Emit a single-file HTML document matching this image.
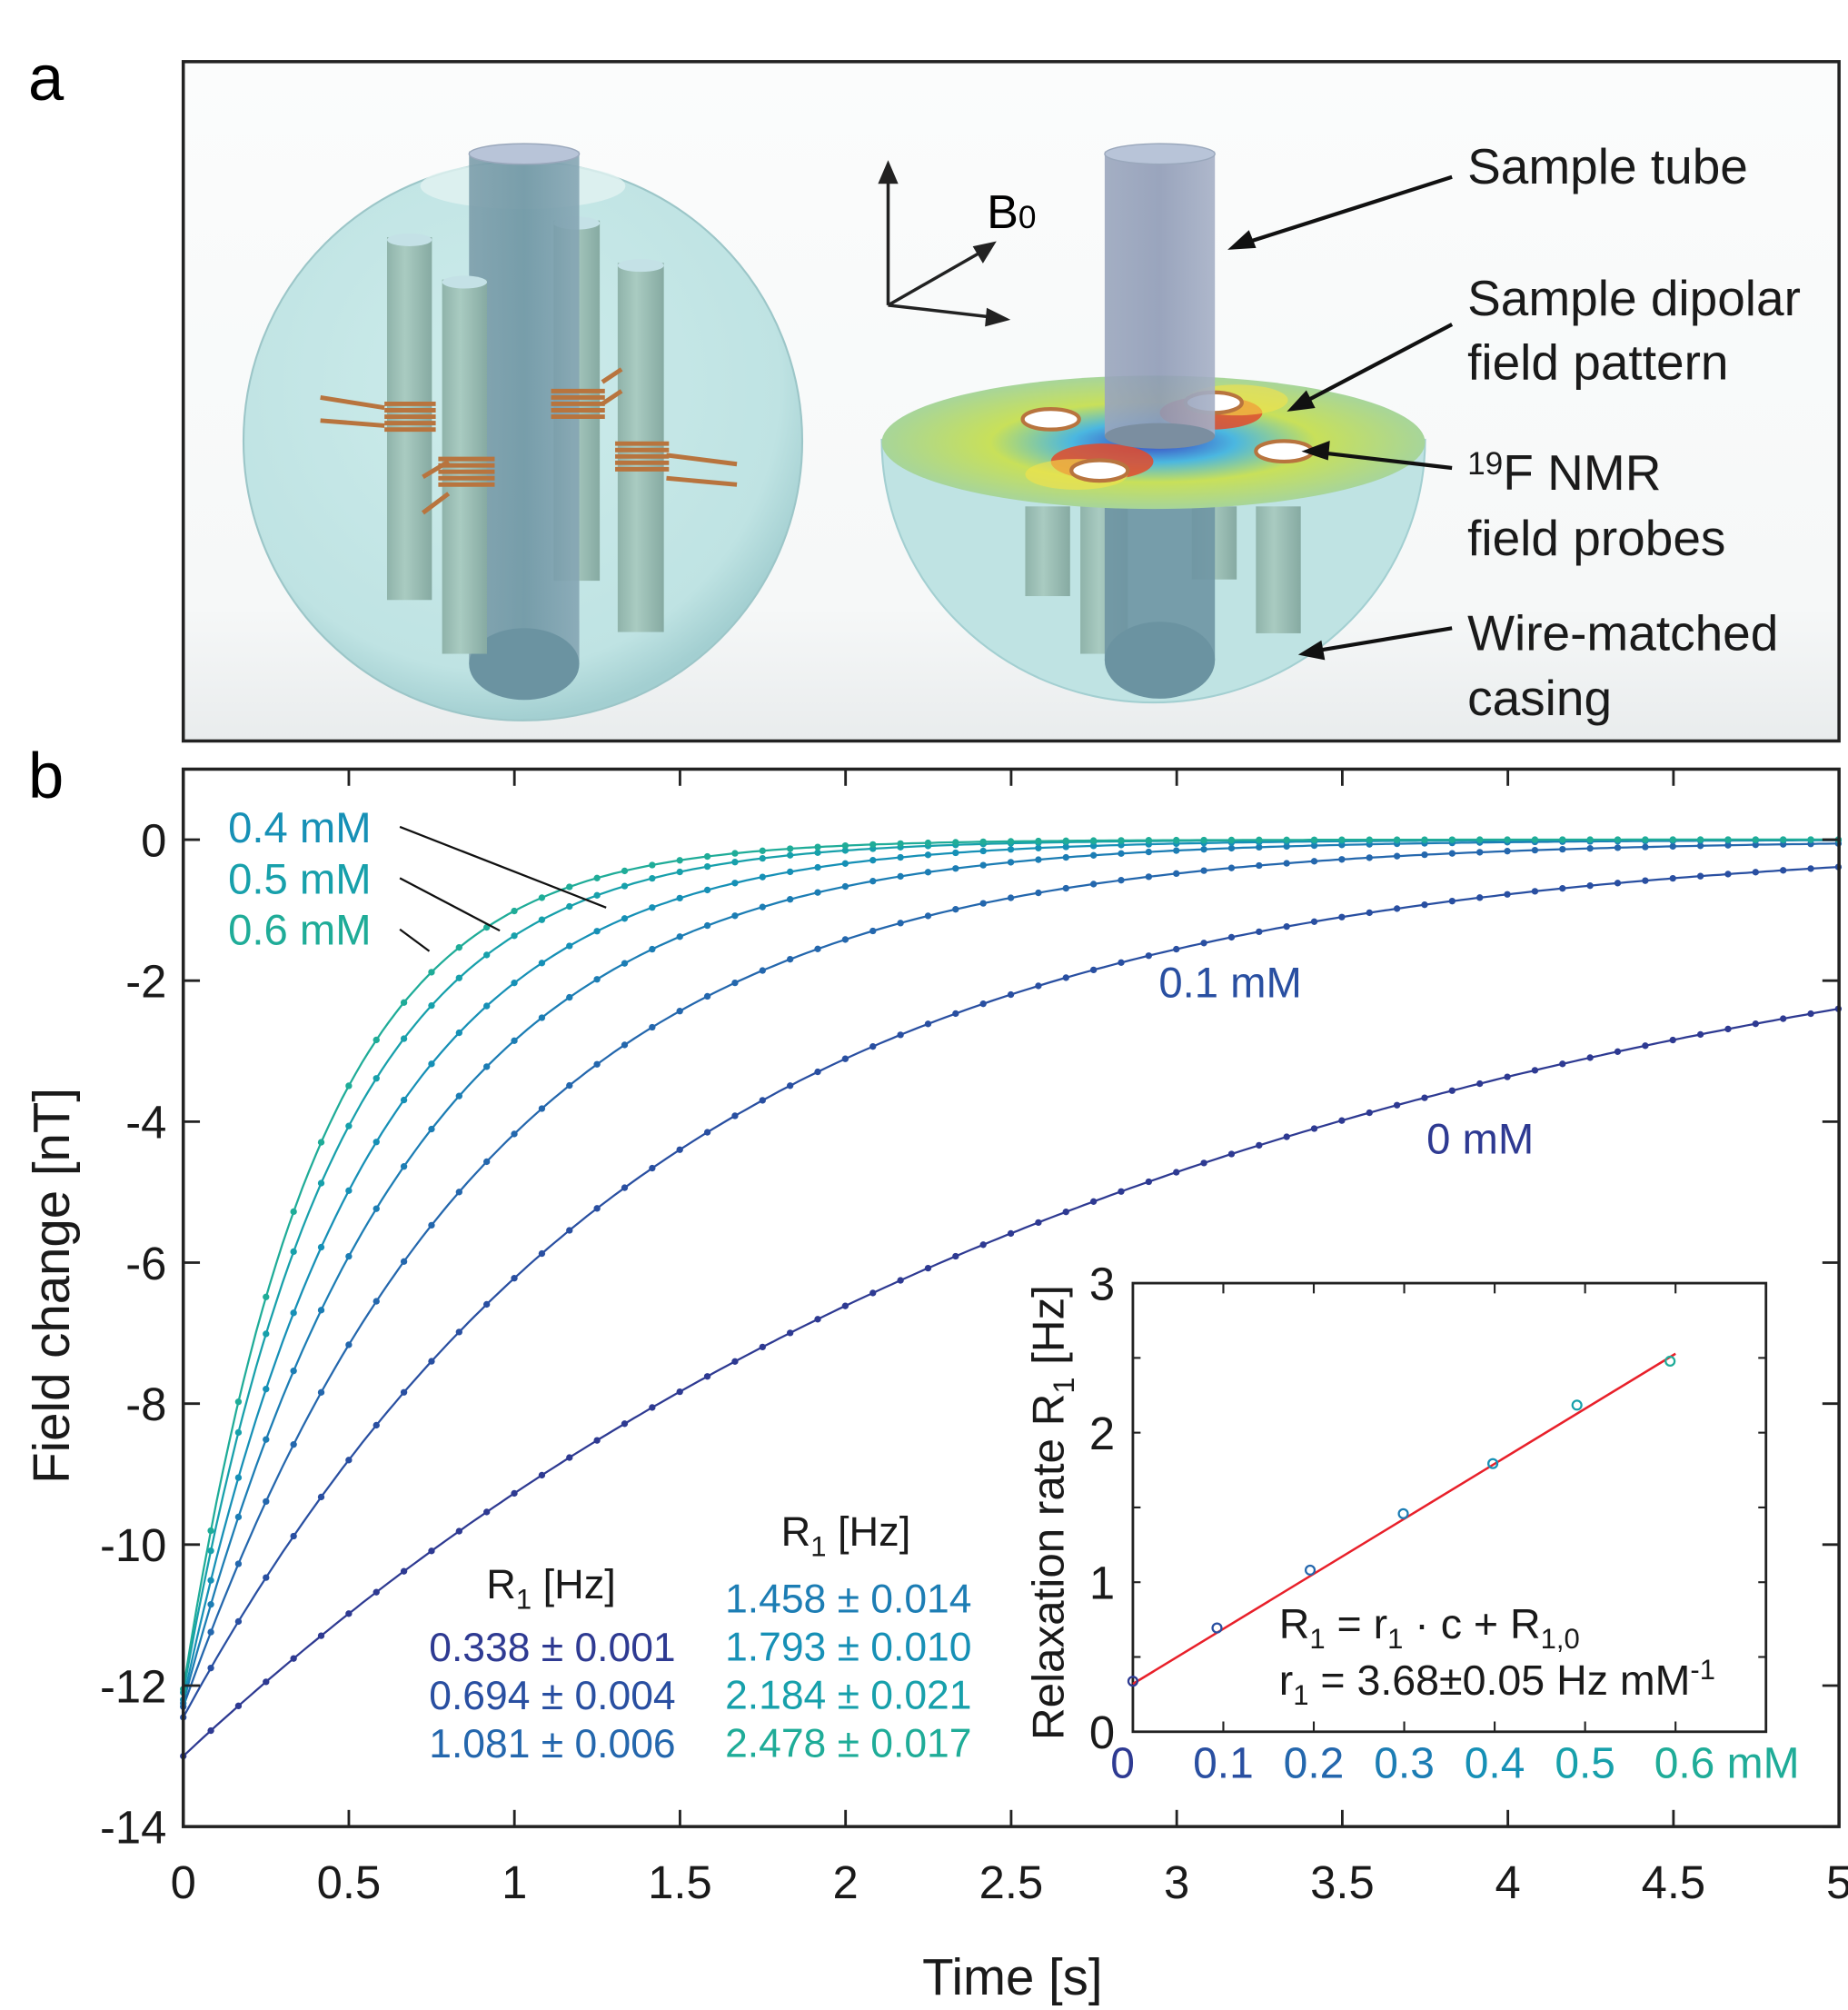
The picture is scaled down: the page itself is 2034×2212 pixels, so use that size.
<!DOCTYPE html>
<html><head><meta charset="utf-8"><style>
html,body{margin:0;padding:0;background:#fff}
svg{display:block}
text{font-family:"Liberation Sans",sans-serif}
</style></head><body>
<svg id="fig" width="2034" height="2212" viewBox="0 0 1442 1568" xmlns="http://www.w3.org/2000/svg">
<defs>
<linearGradient id="bg" x1="0" y1="0" x2="0" y2="1"><stop offset="0" stop-color="#fbfcfc"/><stop offset="0.8" stop-color="#f6f8f8"/><stop offset="1" stop-color="#e9eced"/></linearGradient>
<radialGradient id="sph" cx="0.45" cy="0.4" r="0.6"><stop offset="0" stop-color="#cdeceb"/><stop offset="0.85" stop-color="#bfe3e3"/><stop offset="1" stop-color="#a3cfd1"/></radialGradient>
<linearGradient id="rod" x1="0" x2="1"><stop offset="0" stop-color="#8fb3aa"/><stop offset="0.4" stop-color="#a9cbc1"/><stop offset="1" stop-color="#86aaa2"/></linearGradient>
<linearGradient id="tube" x1="0" x2="1"><stop offset="0" stop-color="#7d9eab"/><stop offset="0.5" stop-color="#6e95a3"/><stop offset="1" stop-color="#86a6b4"/></linearGradient>
<linearGradient id="tube2" x1="0" x2="1"><stop offset="0" stop-color="#9aa6bd"/><stop offset="0.5" stop-color="#8f9bb6"/><stop offset="1" stop-color="#a6b0c6"/></linearGradient>
<radialGradient id="disk" cx="0.5" cy="0.5" r="0.5"><stop offset="0" stop-color="#3a3fc0"/><stop offset="0.3" stop-color="#4bb7e0"/><stop offset="0.6" stop-color="#c8e05a"/><stop offset="1" stop-color="#a7d59a"/></radialGradient>
</defs>

<!-- panel a -->
<text x="22" y="78" font-size="50">a</text>
<rect x="143" y="48" width="1292" height="530" fill="url(#bg)" stroke="#222" stroke-width="2.5"/>
<g>
<ellipse cx="408" cy="344" rx="218" ry="218" fill="url(#sph)" stroke="#9cc6c8" stroke-width="1.5"/>
<ellipse cx="408" cy="145" rx="80" ry="18" fill="#e2f3f1" opacity="0.8"/>
<rect x="302" y="185" width="35" height="283" fill="url(#rod)"/><ellipse cx="319.5" cy="187" rx="17.5" ry="5" fill="#c4e1e6"/>
<rect x="432" y="172" width="36" height="281" fill="url(#rod)"/><ellipse cx="450" cy="174" rx="18" ry="5" fill="#c4e1e6"/>
<rect x="366" y="118" width="86" height="400" fill="url(#tube)" opacity="0.9"/><ellipse cx="409" cy="518" rx="43" ry="28" fill="#6b93a1"/>
<ellipse cx="409" cy="120" rx="43" ry="8" fill="#b8c4d8" stroke="#9aa8bc"/>
<rect x="345" y="218" width="35" height="292" fill="url(#rod)"/><ellipse cx="362.5" cy="220" rx="17.5" ry="5" fill="#c4e1e6"/>
<rect x="482" y="205" width="36" height="288" fill="url(#rod)"/><ellipse cx="500" cy="207" rx="18" ry="5" fill="#c4e1e6"/>
<g fill="none" stroke="#b8743e" stroke-width="3.5">
<path d="M250 310 L300 318 M250 328 L300 332 M330 372 L350 360 M330 400 L350 385 M470 298 L485 288 M470 315 L485 305 M520 355 L575 362 M520 373 L575 378"/>
<path d="M300 315h40M300 320h40M300 325h40M300 330h40M300 335h40"/>
<path d="M342 358h44M342 363h44M342 368h44M342 373h44M342 378h44"/>
<path d="M430 305h42M430 310h42M430 315h42M430 320h42M430 325h42"/>
<path d="M480 346h42M480 351h42M480 356h42M480 361h42M480 366h42"/>
</g>
</g>
<g>
<path d="M688 343 A212 205 0 0 0 1112 343 Z" fill="#bfe3e3" stroke="#a3cfd1" stroke-width="1.5"/>
<rect x="800" y="395" width="35" height="70" fill="url(#rod)"/>
<rect x="930" y="395" width="35" height="57" fill="url(#rod)"/>
<rect x="980" y="395" width="35" height="99" fill="url(#rod)"/>
<rect x="843" y="395" width="37" height="115" fill="url(#rod)"/>
<rect x="862" y="395" width="86" height="120" fill="#6e95a3" opacity="0.9"/><ellipse cx="905" cy="515" rx="43" ry="30" fill="#6b93a1"/>
<ellipse cx="900" cy="345" rx="212" ry="52" fill="url(#disk)"/>
<ellipse cx="860" cy="360" rx="40" ry="14" fill="#e34a2a" opacity="0.85"/><ellipse cx="945" cy="322" rx="40" ry="13" fill="#e34a2a" opacity="0.85"/>
<ellipse cx="840" cy="370" rx="40" ry="12" fill="#f5e24a" opacity="0.6"/><ellipse cx="965" cy="312" rx="40" ry="12" fill="#f5e24a" opacity="0.6"/>
<ellipse cx="820" cy="327" rx="22" ry="8" fill="#fff" stroke="#b8743e" stroke-width="3"/>
<ellipse cx="947" cy="314" rx="22" ry="8" fill="#fff" stroke="#b8743e" stroke-width="3"/>
<ellipse cx="858" cy="367" rx="22" ry="8" fill="#fff" stroke="#b8743e" stroke-width="3"/>
<ellipse cx="1002" cy="352" rx="22" ry="8" fill="#fff" stroke="#b8743e" stroke-width="3"/>
<rect x="862" y="118" width="86" height="222" fill="url(#tube2)" opacity="0.9"/>
<ellipse cx="905" cy="120" rx="43" ry="8" fill="#b8c4d8" stroke="#9aa8bc"/>
<ellipse cx="905" cy="340" rx="43" ry="10" fill="#7b8ea0"/>
</g>
<g stroke="#222" stroke-width="2.5" fill="#222">
<path d="M693 238 V135 M693 238 L770 194 M693 238 L780 248" fill="none"/>
<path d="M693 128 l-6 14 h12z"/><path d="M775 190 l-14 3 l6 10z"/><path d="M785 249 l-14 -7 l-1 11z"/>
</g>
<text x="770" y="178" font-size="37">B<tspan font-size="25">0</tspan></text>
<g stroke="#111" stroke-width="3" fill="#111">
<path d="M1133 138 L970 190" fill="none"/><path d="M962 193 l16 -1 l-4 -10z"/>
<path d="M1133 253 L1015 315" fill="none"/><path d="M1008 319 l16 -2 l-5 -10z"/>
<path d="M1133 365 L1030 353" fill="none"/><path d="M1020 352 l15 5 l1 -11z"/>
<path d="M1133 490 L1025 508" fill="none"/><path d="M1017 510 l15 3 l-2 -11z"/>
</g>
<g font-size="39" fill="#1a1a1a">
<text x="1145" y="143">Sample tube</text>
<text x="1145" y="246">Sample dipolar</text>
<text x="1145" y="296">field pattern</text>
<text x="1145" y="382"><tspan font-size="25" dy="-12">19</tspan><tspan dy="12">F NMR</tspan></text>
<text x="1145" y="433">field probes</text>
<text x="1145" y="507">Wire-matched</text>
<text x="1145" y="558">casing</text>
</g>

<!-- panel b -->
<text x="22" y="622" font-size="50">b</text>
<g id="main"></g>
<g id="inset"></g>
</svg>
<script>
// ---- main chart data ----
var concentrations = ['0 mM','0.1 mM','0.2 mM','0.3 mM','0.4 mM','0.5 mM','0.6 mM'];
var rates = [0.338, 0.694, 1.081, 1.458, 1.793, 2.184, 2.478];
var rateErrors = ['0.001','0.004','0.006','0.014','0.010','0.021','0.017'];
var amplitudes = [13.0, 12.45, 12.3, 12.25, 12.2, 12.1, 12.05];
var colors = ['#2e3a92','#294fa1','#2467ad','#1c7db4','#1690b6','#17a0ab','#1fac98'];
var xTicks = [0,0.5,1,1.5,2,2.5,3,3.5,4,4.5,5];
var yTicks = [0,-2,-4,-6,-8,-10,-12,-14];
var sampleStep = 0.0833;
// ---- inset data ----
var insetConc = [0, 0.093, 0.196, 0.299, 0.398, 0.491, 0.594];
var insetRates = [0.338, 0.694, 1.081, 1.458, 1.793, 2.184, 2.478];
var insetXTicks = ['0','0.1','0.2','0.3','0.4','0.5','0.6 mM'];
var insetYTicks = [0,1,2,3];
var fitSlope = 3.68, fitIntercept = 0.32;

var NS='http://www.w3.org/2000/svg';
function mk(tag, attrs, parent){var e=document.createElementNS(NS,tag);for(var k in attrs)e.setAttribute(k,attrs[k]);parent.appendChild(e);return e;}
var main=document.getElementById('main');
var L=143,R=1435,T=600,B=1425;
function X(t){return L+(t-0)/(5-0)*(R-L);}
function Y(v){return 655+(0-v)*55;}
function model(i,t){return -amplitudes[i]*Math.exp(-rates[i]*t);}

for(var i=0;i<rates.length;i++){
  var d='';
  for(var t=0;t<=5.0001;t+=0.02){d+=(d?'L':'M')+X(t).toFixed(1)+' '+Y(model(i,t)).toFixed(1);}
  var p=mk('path',{d:d,fill:'none',stroke:colors[i],'stroke-width':1.6},main);
  
  
  var g=mk('g',{fill:colors[i]},main);
  
  
  for(var t=0;t<=5.0001;t+=sampleStep){mk('circle',{cx:X(t),cy:Y(model(i,t)),r:2.6},g);}
}
var fr=mk('rect',{x:L,y:T,width:R-L,height:B-T,fill:'none',stroke:'#222','stroke-width':2.5},main);


xTicks.forEach(function(v){
  mk('line',{x1:X(v),x2:X(v),y1:B,y2:B-13,stroke:'#222','stroke-width':2},main);
  mk('line',{x1:X(v),x2:X(v),y1:T,y2:T+13,stroke:'#222','stroke-width':2},main);
  var tx=mk('text',{x:X(v),y:1481,'font-size':36,'text-anchor':'middle',fill:'#1a1a1a'},main);
  tx.textContent=v;
  
  
});
yTicks.forEach(function(v){
  mk('line',{x1:L,x2:L+13,y1:Y(v),y2:Y(v),stroke:'#222','stroke-width':2},main);
  mk('line',{x1:R,x2:R-13,y1:Y(v),y2:Y(v),stroke:'#222','stroke-width':2},main);
  var tx=mk('text',{x:130,y:Y(v)+13,'font-size':36,'text-anchor':'end',fill:'#1a1a1a'},main);
  tx.textContent=v;
  
  
});
var xt=mk('text',{x:790,y:1556,'font-size':40,'text-anchor':'middle',fill:'#1a1a1a'},main);
xt.textContent='Time [s]';


var yt=mk('text',{x:0,y:0,'font-size':40,'text-anchor':'middle',fill:'#1a1a1a',transform:'translate(54,1003) rotate(-90)'},main);
yt.textContent='Field change [nT]';


var lbls=[[0,1155,900],[1,960,778]];
lbls.forEach(function(a){
  var tx=mk('text',{x:a[1],y:a[2],'font-size':33.5,'text-anchor':'middle',fill:colors[a[0]]},main);
  tx.textContent=concentrations[a[0]];
  
  
});
[[4,657,473,708],[5,697,390,726],[6,737,335,742]].forEach(function(a){
  var tx=mk('text',{x:178,y:a[1],'font-size':33.5,fill:colors[a[0]]},main);
  tx.textContent=concentrations[a[0]];
  
  
  var ln=mk('line',{x1:312,y1:a[1]-12,x2:a[2],y2:a[3],stroke:'#111','stroke-width':1.6},main);
  
  
});
function r1head(x,y){var tx=mk('text',{x:x,y:y,'font-size':32,'text-anchor':'middle',fill:'#1a1a1a'},main);
  tx.innerHTML='R<tspan font-size="22" dy="8">1</tspan><tspan dy="-8"> [Hz]</tspan>';
  
  }
r1head(430,1247); r1head(660,1206);
for(var i=0;i<7;i++){
  var col=i<3?0:1, row=i<3?i:i-3;
  var x=col?662:431, y=col?1258+row*37.5:1296+row*37.5;
  var tx=mk('text',{x:x,y:y,'font-size':31.5,'text-anchor':'middle',fill:colors[i]},main);
  tx.textContent=rates[i].toFixed(3)+' \u00b1 '+rateErrors[i];
  
  
}

// ---- inset ----
var ins=document.getElementById('inset');
var iL=884,iR=1378,iT=1001,iB=1351;
function IX(c){return iL+c/0.7*(iR-iL);}
function IY(v){return iB-v/3*(iB-iT);}
var ib=mk('rect',{x:iL,y:iT,width:iR-iL,height:iB-iT,fill:'#fff',stroke:'#222','stroke-width':2},ins);


for(var k=1;k<7;k++){var c=k*0.1;
  mk('line',{x1:IX(c),x2:IX(c),y1:iB,y2:iB-8,stroke:'#222','stroke-width':1.5},ins);
  mk('line',{x1:IX(c),x2:IX(c),y1:iT,y2:iT+8,stroke:'#222','stroke-width':1.5},ins);}
for(var v=0.5;v<3;v+=0.5){
  mk('line',{x1:iL,x2:iL+6,y1:IY(v),y2:IY(v),stroke:'#222','stroke-width':1.5},ins);
  mk('line',{x1:iR,x2:iR-6,y1:IY(v),y2:IY(v),stroke:'#222','stroke-width':1.5},ins);}
insetYTicks.forEach(function(v){
  var tx=mk('text',{x:870,y:IY(v)+13,'font-size':36,'text-anchor':'end',fill:'#1a1a1a'},ins);
  tx.textContent=v;
  
  
});
insetXTicks.forEach(function(s,k){
  var tx=mk('text',{x:IX(k*0.1)-(k==0?8:0)+(k==6?40:0),y:1387,'font-size':34,'text-anchor':'middle',fill:colors[k]},ins);
  tx.textContent=s;
  
  
});
var fl=mk('line',{x1:IX(0),y1:IY(fitIntercept),x2:IX(0.6),y2:IY(fitIntercept+fitSlope*0.6),stroke:'#e8202a','stroke-width':1.8},ins);


insetConc.forEach(function(c,k){
  var pt=mk('circle',{cx:IX(c),cy:IY(insetRates[k]),r:3.5,fill:'none',stroke:colors[k],'stroke-width':1.6},ins);
  
  
});
var it=mk('text',{x:0,y:0,'font-size':35,'text-anchor':'middle',fill:'#1a1a1a',transform:'translate(830,1180) rotate(-90)'},ins);
it.innerHTML='Relaxation rate R<tspan font-size="23" dy="8">1</tspan><tspan dy="-8"> [Hz]</tspan>';


var e1=mk('text',{x:998,y:1278,'font-size':33,fill:'#1a1a1a'},ins);
e1.innerHTML='R<tspan font-size="22" dy="8">1</tspan><tspan dy="-8"> =  r</tspan><tspan font-size="22" dy="8">1</tspan><tspan dy="-8"> · c + R</tspan><tspan font-size="22" dy="8">1,0</tspan>';


var e2=mk('text',{x:998,y:1322,'font-size':33,fill:'#1a1a1a'},ins);
e2.innerHTML='r<tspan font-size="22" dy="8">1</tspan><tspan dy="-8">  =  '+fitSlope.toFixed(2)+'\u00b10.05 Hz mM</tspan><tspan font-size="22" dy="-12">-1</tspan>';


</script>
</body></html>
